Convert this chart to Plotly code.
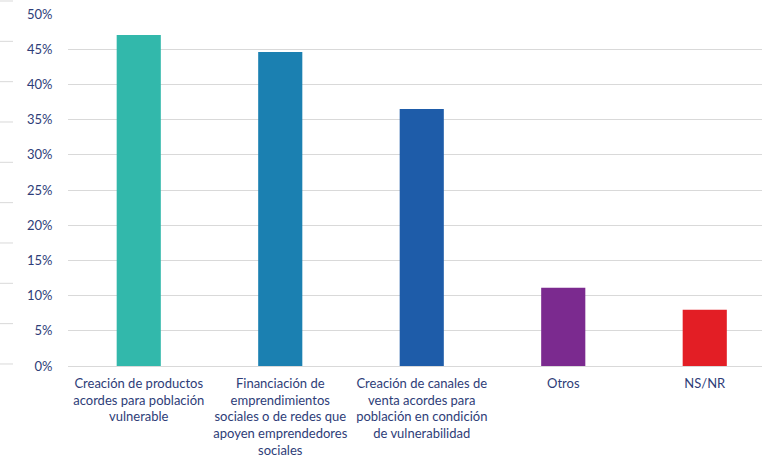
import plotly.graph_objects as go

# Survey responses: share of respondents per proposed action
categories = [
    "Creación de productos<br>acordes para población<br>vulnerable",
    "Financiación de<br>emprendimientos<br>sociales o de redes que<br>apoyen emprendedores<br>sociales",
    "Creación de canales de<br>venta acordes para<br>población en condición<br>de vulnerabilidad",
    "Otros",
    "NS/NR",
]
shares = [0.47, 0.446, 0.365, 0.111, 0.08]
bar_colors = ["#32B8AB", "#1B80B1", "#1E5CA9", "#7B2A8F", "#E31E25"]
y_ticks = [i * 0.05 for i in range(11)]

W, H = 762, 457
ML, MT, MB = 68, 14, 91
plot_w = W - ML
plot_h = H - MT - MB

fig = go.Figure(
    go.Bar(
        x=list(range(len(categories))),
        y=shares,
        marker=dict(color=bar_colors, line=dict(width=0)),
        width=0.312,
        hoverinfo="skip",
    )
)

font_color = "#2E3D78"
font_family = "Lato, 'Open Sans', sans-serif"

# faint stray rule marks along the left edge
shapes = []
for k in range(10):
    py = 1 + k * 40.33
    yp = (H - MB - py) / plot_h
    shapes.append(dict(
        type="line", xref="paper", yref="paper",
        x0=-ML / plot_w, x1=(13 - ML) / plot_w, y0=yp, y1=yp,
        line=dict(color="#D9D9D9", width=1),
    ))

fig.update_layout(
    width=W, height=H,
    margin=dict(l=ML, r=0, t=MT, b=MB, pad=0),
    paper_bgcolor="white", plot_bgcolor="white",
    showlegend=False,
    font=dict(family=font_family, size=13, color=font_color),
    shapes=shapes,
    xaxis=dict(
        tickmode="array",
        tickvals=list(range(len(categories))),
        ticktext=categories,
        range=[-0.5, -0.5 + plot_w / 141.5],
        showgrid=False, zeroline=False,
        showline=True, linecolor="#D9D9D9", linewidth=1,
        ticks="outside", ticklen=5, tickcolor="rgba(0,0,0,0)",
        tickfont=dict(size=13, color=font_color),
        tickangle=0,
        automargin=False,
    ),
    yaxis=dict(
        range=[0, 0.5],
        tickmode="array",
        tickvals=y_ticks,
        ticktext=[f"{round(v * 100)}%" for v in y_ticks],
        showgrid=True, gridcolor="#D9D9D9", gridwidth=1,
        zeroline=False, showline=False,
        ticks="outside", ticklen=12, tickcolor="rgba(0,0,0,0)",
        tickfont=dict(size=13, color=font_color),
        automargin=False,
    ),
)

fig.write_html("out.html")
